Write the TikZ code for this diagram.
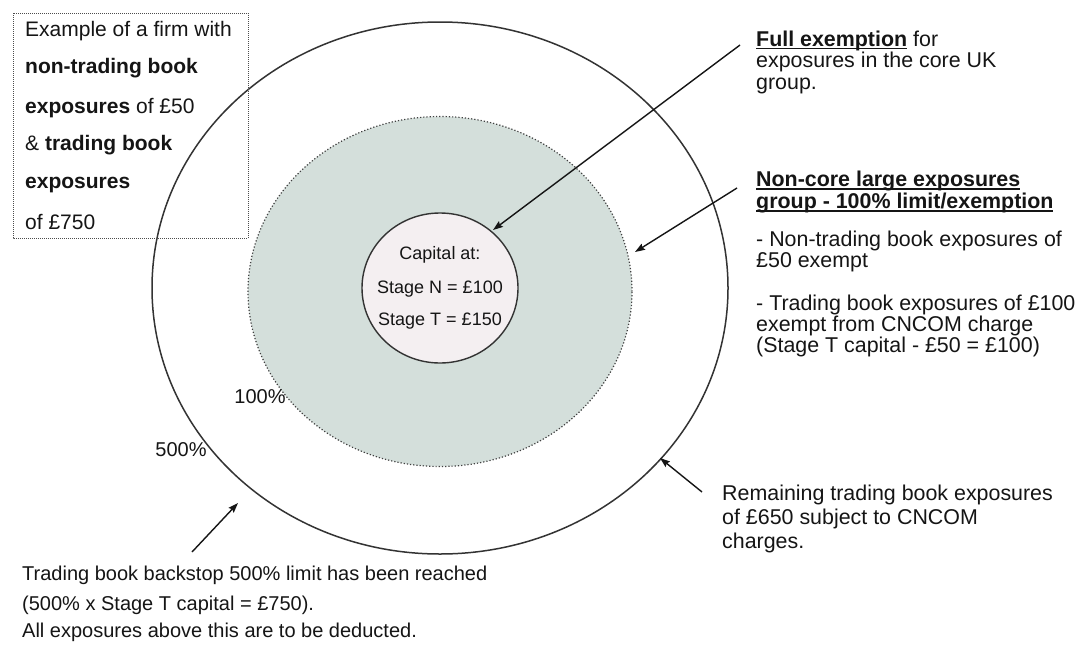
\documentclass[tikz,border=0pt]{standalone}
\usepackage{fontspec}
\setmainfont{Liberation Sans}
\usetikzlibrary{arrows.meta}
\definecolor{ringgray}{HTML}{D4DFDB}
\definecolor{corefill}{HTML}{F4EFF1}
\definecolor{inkc}{HTML}{151515}
\newcommand\ulbar[1]{\setbox0\hbox{#1}\rlap{\rule[-3.2pt]{\wd0}{1.5pt}}\box0\relax}
\tikzset{
  txt/.style={anchor=west, inner sep=0pt, text=inkc, font=\fontsize{21.4}{23}\selectfont},
  boxtxt/.style={txt, font=\fontsize{21}{23}\selectfont},
  btxt/.style={txt, font=\fontsize{20}{22}\selectfont},
  ctxt/.style={anchor=center, inner sep=0pt, text=inkc, font=\fontsize{18}{20}\selectfont},
  ptr/.style={draw=inkc, line width=1.4pt, -{Stealth[length=10pt,width=7pt,inset=1.5pt]}},
}
\begin{document}
\begin{tikzpicture}[x=1pt,y=-1pt]
\useasboundingbox (0,0) rectangle (1081,645);
\fill[white] (0,0) rectangle (1081,645);
% rings
\draw[draw=black!80, line width=1.5pt, fill=white] (440,288) ellipse [x radius=288pt, y radius=266pt];
\draw[draw=black!75, line width=1.2pt, dotted, fill=ringgray] (440,291.5) ellipse [x radius=192pt, y radius=175pt];
\draw[draw=black!80, line width=1.4pt, fill=corefill] (440,288) ellipse [x radius=78pt, y radius=75pt];
% dotted box
\draw[black!70, line width=1pt, densely dotted] (13,13) rectangle (248,238);
\node[boxtxt] (b1) at (25,31) {Example of a firm with};
\node[boxtxt] (b2) at (25,68) {\textbf{non-trading book}};
\node[boxtxt] (b3) at (25,108) {\textbf{exposures} of £50};
\node[boxtxt] (b4) at (25,145) {\& \textbf{trading book}};
\node[boxtxt] (b5) at (25,185) {\textbf{exposures}};
\node[boxtxt] (b6) at (25,222) {of £750};
% core text
\node[ctxt] (c1) at (440,255) {Capital at:};
\node[ctxt] (c2) at (440,289) {Stage N = £100};
\node[ctxt] (c3) at (440,321) {Stage T = £150};
% percentages
\node[ctxt, font=\fontsize{20}{22}\selectfont] (p100) at (260,397) {100\%};
\node[ctxt, font=\fontsize{20}{22}\selectfont] (p500) at (181,450) {500\%};
% right texts
\node[txt, align=left, font=\fontsize{21.4}{21.5}\selectfont] (fx) at (756,62)
  {\ulbar{\textbf{Full exemption}} for\\ exposures in the core UK\\ group.};
\node[txt] (n1) at (756,181) {\ulbar{\textbf{Non-core large exposures}}};
\node[txt] (n2) at (756,203) {\ulbar{\textbf{group - 100\% limit/exemption}}};
\node[txt] (n3) at (756,241) {- Non-trading book exposures of};
\node[txt] (n4) at (756,262) {£50 exempt};
\node[txt] (n5) at (756,305) {- Trading book exposures of £100};
\node[txt] (n6) at (756,326) {exempt from CNCOM charge};
\node[txt] (n7) at (756,347) {(Stage T capital - £50 = £100)};
\node[txt] (r1) at (722,495) {Remaining trading book exposures};
\node[txt] (r2) at (722,519) {of £650 subject to CNCOM};
\node[txt] (r3) at (722,543) {charges.};
\node[btxt] (t1) at (22,575) {Trading book backstop 500\% limit has been reached};
\node[btxt] (t2) at (22,605) {(500\% x Stage T capital = £750).};
\node[btxt] (t3) at (22,632) {All exposures above this are to be deducted.};
% arrows
\coordinate (a1s) at (740,45);
\coordinate (a1e) at (493,230);
\coordinate (a2s) at (737,188);
\coordinate (a2e) at (635,252);
\coordinate (a3s) at (702,492);
\coordinate (a3e) at (660,458);
\coordinate (a4s) at (192,552);
\coordinate (a4e) at (238,503);
\draw[ptr] (a1s) -- (a1e);
\draw[ptr] (a2s) -- (a2e);
\draw[ptr] (a3s) -- (a3e);
\draw[ptr] (a4s) -- (a4e);
\end{tikzpicture}
\end{document}
